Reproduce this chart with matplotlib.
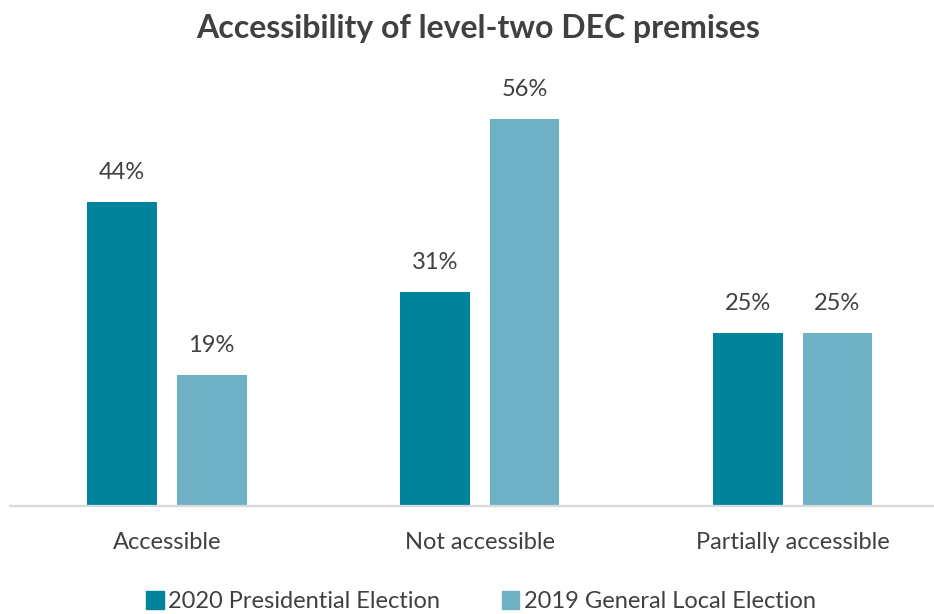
import matplotlib.pyplot as plt
import numpy as np
from matplotlib.patches import Patch

CATEGORIES = ["Accessible", "Not accessible", "Partially accessible"]
SERIES = ["2020 Presidential Election", "2019 General Local Election"]
PRESIDENTIAL_2020 = [44, 31, 25]
LOCAL_2019 = [19, 56, 25]

DARK = "#01839C"
LIGHT = "#6EB1C4"
INK = "#404040"
AXIS = "#D9D9D9"

plt.rcParams["font.family"] = ["Lato", "DejaVu Sans"]

fig = plt.figure(figsize=(9.34, 6.14), dpi=100)
ax = fig.add_axes([0.0112, 0.1759, 1.005, 0.676])

x = np.arange(len(CATEGORIES))
width = 0.223
offset = 0.143

groups = [(PRESIDENTIAL_2020, DARK, -offset), (LOCAL_2019, LIGHT, offset)]
for values, color, shift in groups:
    bars = ax.bar(x + shift, values, width=width, color=color, zorder=2)
    for bar, value in zip(bars, values):
        ax.annotate(
            f"{value}%",
            (bar.get_x() + bar.get_width() / 2, value),
            xytext=(0, 21),
            textcoords="offset points",
            ha="center",
            va="center",
            fontsize=17,
            color=INK,
        )

ax.set_xlim(-0.5, 2.5)
ax.set_ylim(0, 60)
ax.set_yticks([])
ax.set_xticks(x)
ax.set_xticklabels(CATEGORIES, fontsize=17, color=INK)
ax.tick_params(axis="x", length=0, pad=19)
for side in ["top", "right", "left"]:
    ax.spines[side].set_visible(False)
ax.spines["bottom"].set_color(AXIS)
ax.spines["bottom"].set_linewidth(1.6)

fig.text(
    0.512,
    0.953,
    "Accessibility of level-two DEC premises",
    ha="center",
    va="center",
    fontsize=23,
    fontweight="bold",
    color=INK,
)

# legend sits right at the bottom edge, kept just inside the canvas
handles = [Patch(color=DARK), Patch(color=LIGHT)]
fig.legend(
    handles,
    SERIES,
    loc="center",
    bbox_to_anchor=(0.515, 0.02),
    ncol=2,
    frameon=False,
    fontsize=17,
    labelcolor=INK,
    handlelength=0.75,
    handleheight=0.75,
    handletextpad=0.2,
    columnspacing=2.6,
)

fig.savefig("out.png", dpi=100)
